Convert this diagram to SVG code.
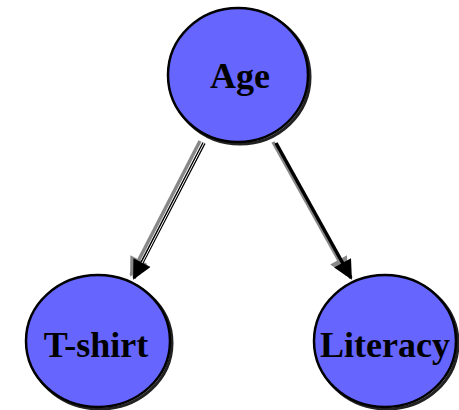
<svg xmlns="http://www.w3.org/2000/svg" width="459" height="410" viewBox="0 0 459 410">
<style>
.node{fill:#6666ff;stroke:#000;stroke-width:2.5}
.shadow{fill:none;stroke:#222;stroke-width:3}
.lbl{font-family:"Liberation Serif","Times New Roman",serif;font-weight:bold;font-size:36px;text-anchor:middle;fill:#000}
.edge{stroke:#000;stroke-width:3.5;fill:none}
.eshadow{stroke:#888;stroke-width:3.5;fill:none}
</style>
<defs>
<marker id="ah" viewBox="0 0 10 10" refX="9" refY="5" markerWidth="6" markerHeight="5.5" markerUnits="strokeWidth" orient="auto">
<path d="M0,0 L10,5 L0,10 Z" fill="#000"/>
</marker>
<marker id="ahs" viewBox="0 0 10 10" refX="9" refY="5" markerWidth="6" markerHeight="5.5" markerUnits="strokeWidth" orient="auto">
<path d="M0,0 L10,5 L0,10 Z" fill="#888"/>
</marker>
</defs>
<g id="connectors">
<line class="eshadow" x1="200" y1="141" x2="131" y2="275" marker-end="url(#ahs)"/>
<line class="edge" x1="204" y1="143" x2="134" y2="278" marker-end="url(#ah)"/>
<line x1="204" y1="143" x2="142" y2="263" stroke="#fff" stroke-width="1"/>
<line class="eshadow" x1="273" y1="142" x2="347" y2="275" marker-end="url(#ahs)"/>
<line class="edge" x1="276" y1="143" x2="351" y2="278" marker-end="url(#ah)"/>
</g>
<g id="age">
<ellipse class="shadow" cx="240" cy="77" rx="70" ry="67"/>
<ellipse class="node" cx="238" cy="75" rx="70" ry="67"/>
<text class="lbl" x="240" y="88">Age</text>
</g>
<g id="tshirt">
<ellipse class="shadow" cx="100" cy="343" rx="72" ry="66"/>
<ellipse class="node" cx="98" cy="341" rx="72" ry="66"/>
<text class="lbl" x="96" y="357">T-shirt</text>
</g>
<g id="literacy">
<ellipse class="shadow" cx="387" cy="343" rx="71" ry="66"/>
<ellipse class="node" cx="385" cy="341" rx="71" ry="66"/>
<text class="lbl" x="385" y="357">Literacy</text>
</g>
</svg>
